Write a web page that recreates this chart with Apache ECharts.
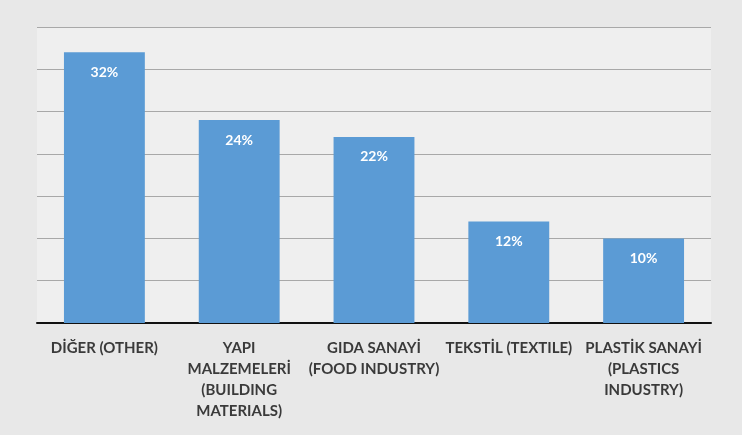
<!DOCTYPE html>
<html>
<head>
<meta charset="utf-8">
<script src="https://cdn.jsdelivr.net/npm/echarts@6/dist/echarts.min.js"></script>
<style>
html, body { margin: 0; padding: 0; background: #e6e6e6; }
#main { width: 742px; height: 435px; }
</style>
</head>
<body>
<div id="main"></div>
<script>
// kategoriler ve yüzdeler
var categories = [
    'DİĞER (OTHER)',
    'YAPI\nMALZEMELERİ\n(BUILDING\nMATERIALS)',
    'GIDA SANAYİ\n(FOOD INDUSTRY)',
    'TEKSTİL (TEXTILE)',
    'PLASTİK SANAYİ\n(PLASTICS\nINDUSTRY)'
];
var shares = [32, 24, 22, 12, 10];

var myChart = echarts.init(document.getElementById('main'));

var option = {
    backgroundColor: '#e8e8e8',
    grid: {
        left: 37,
        right: 31,
        top: 27,
        bottom: 112,
        show: true,
        backgroundColor: '#efefef',
        borderWidth: 0
    },
    xAxis: {
        type: 'category',
        data: categories,
        axisLine: { lineStyle: { color: '#111', width: 2 } },
        axisTick: { show: false },
        axisLabel: {
            color: '#3a3a3a',
            fontFamily: 'Lato',
            fontWeight: 'bold',
            fontSize: 15,
            lineHeight: 21,
            margin: 15,
            interval: 0
        }
    },
    yAxis: {
        type: 'value',
        min: 0,
        max: 35,
        interval: 5,
        axisLabel: { show: false },
        axisLine: { show: false },
        axisTick: { show: false },
        splitLine: { lineStyle: { color: '#a8a8a8', width: 1 } }
    },
    series: [{
        type: 'bar',
        data: shares,
        barWidth: '60%',
        itemStyle: { color: '#5b9bd5' },
        label: {
            show: true,
            position: 'insideTop',
            distance: 13,
            formatter: '{c}%',
            color: '#fff',
            fontWeight: 'bold',
            fontFamily: 'Lato',
            fontSize: 14
        }
    }]
};

myChart.setOption(option);
window.onresize = myChart.resize;
</script>
</body>
</html>
